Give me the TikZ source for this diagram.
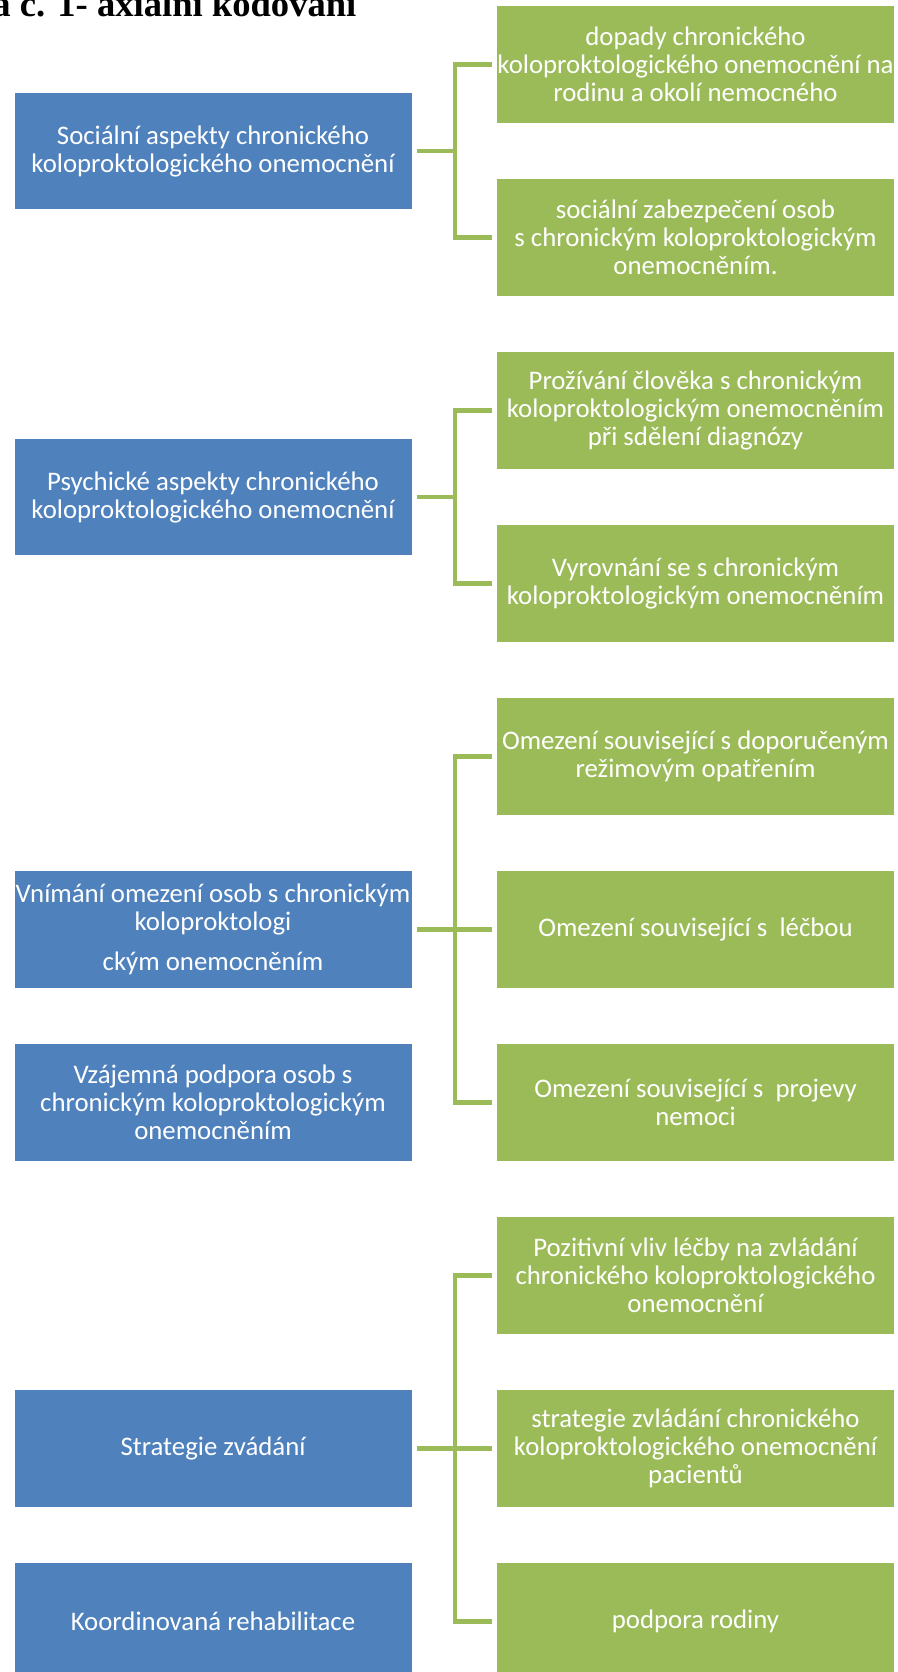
\documentclass[tikz,border=0pt]{standalone}
\usepackage{fontspec}
\setmainfont{Carlito}
\newfontfamily\titlefont{Liberation Serif}
\usetikzlibrary{calc}
\definecolor{bluebox}{HTML}{4F81BD}
\definecolor{greenbox}{HTML}{9BBB59}
\begin{document}
\begin{tikzpicture}[x=0.5pt,y=-0.5pt,
  box/.style={minimum width=198.5pt, minimum height=58.15pt, inner sep=0pt, align=center, text=white, font=\fontsize{13.4}{14}\selectfont},
  bbox/.style={box, fill=bluebox},
  gbox/.style={box, fill=greenbox},
  conn/.style={draw=greenbox, line width=2.35pt}]
\useasboundingbox (0,0) rectangle (898,1672);
\clip (0,0) rectangle (898,1672);

\node[anchor=base west, inner sep=0pt, font=\titlefont\bfseries\fontsize{18.3}{20}\selectfont] (title) at (-8,16.5) {a č. 1- axiální kódování};

\coordinate (vx) at (455,0);

% blue boxes
\node[bbox] (b1) at (213,151) {Sociální aspekty chronického\\koloproktologického onemocnění};
\node[bbox] (b2) at (213,497) {Psychické aspekty chronického\\koloproktologického onemocnění};
\node[bbox] (b3) at (213,929.6) {Vnímání omezení osob s chronickým\\koloproktologi\\[6pt]ckým onemocněním};
\node[bbox] (b4) at (213,1102.6) {Vzájemná podpora osob s\\chronickým koloproktologickým\\onemocněním};
\node[bbox] (b5) at (213,1448.6) {Strategie zvádání};
\node[bbox] (b6) at (213,1621.6) {Koordinovaná rehabilitace};

% green boxes
\node[gbox] (g1) at (695.5,64.6) {dopady chronického\\koloproktologického onemocnění na\\rodinu a okolí nemocného};
\node[gbox] (g2) at (695.5,237.5) {sociální zabezpečení osob\\s chronickým koloproktologickým\\onemocněním.};
\node[gbox] (g3) at (695.5,410.5) {Prožívání člověka s chronickým\\koloproktologickým onemocněním\\při sdělení diagnózy};
\node[gbox] (g4) at (695.5,583.5) {Vyrovnání se s chronickým\\koloproktologickým onemocněním};
\node[gbox] (g5) at (695.5,756.6) {Omezení související s doporučeným\\režimovým opatřením};
\node[gbox] (g6) at (695.5,929.6) {Omezení související s\ \ léčbou};
\node[gbox] (g7) at (695.5,1102.6) {Omezení související s\ \ projevy\\nemoci};
\node[gbox] (g8) at (695.5,1275.6) {Pozitivní vliv léčby na zvládání\\chronického koloproktologického\\onemocnění};
\node[gbox] (g9) at (695.5,1448.6) {strategie zvládání chronického\\koloproktologického onemocnění\\pacientů};
\node[gbox] (g10) at (695.5,1621.6) {podpora rodiny};

% connectors group 1
\draw[conn] ($(b1.east)+(5,0)$) -- (b1.east -| vx);
\draw[conn] ($(g1.west)+(-5,0)$) -- (g1.west -| vx) -- (g2.west -| vx) -- ($(g2.west)+(-5,0)$);
% group 2
\draw[conn] ($(b2.east)+(5,0)$) -- (b2.east -| vx);
\draw[conn] ($(g3.west)+(-5,0)$) -- (g3.west -| vx) -- (g4.west -| vx) -- ($(g4.west)+(-5,0)$);
% group 3
\draw[conn] ($(b3.east)+(5,0)$) -- (b3.east -| vx);
\draw[conn] ($(g5.west)+(-5,0)$) -- (g5.west -| vx) -- (g7.west -| vx) -- ($(g7.west)+(-5,0)$);
\draw[conn] (g6.west -| vx) -- ($(g6.west)+(-5,0)$);
% group 4
\draw[conn] ($(b5.east)+(5,0)$) -- (b5.east -| vx);
\draw[conn] ($(g8.west)+(-5,0)$) -- (g8.west -| vx) -- (g10.west -| vx) -- ($(g10.west)+(-5,0)$);
\draw[conn] (g9.west -| vx) -- ($(g9.west)+(-5,0)$);
\end{tikzpicture}
\end{document}
